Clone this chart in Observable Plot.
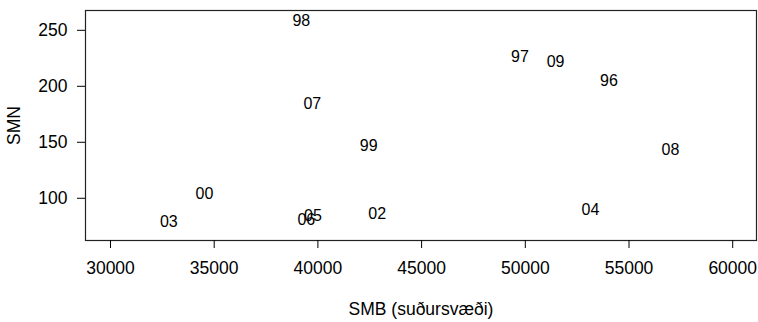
<!DOCTYPE html>
<html>
<head>
<meta charset="utf-8">
<script src="https://cdn.jsdelivr.net/npm/d3@7"></script>
<script src="https://cdn.jsdelivr.net/npm/@observablehq/plot@0.6"></script>
<style>
  html, body { margin: 0; padding: 0; background: #fff; }
</style>
</head>
<body>
<div id="chart"></div>
<script>
// Year labels (two-digit) with SMB (south region) and SMN values
const years = ["96", "97", "98", "99", "00", "02", "03", "04", "05", "06", "07", "08", "09"];
const smb   = [54030, 49740, 39200, 42450, 34530, 42860, 32810, 53140, 39760, 39440, 39730, 57000, 51460];
const smn   = [204.7, 226.2, 258.3, 146.7, 104.1, 85.7, 78.8, 89.5, 84.3, 80.6, 183.9, 143.1, 221.7];

const xTicks = [30000, 35000, 40000, 45000, 50000, 55000, 60000];
const yTicks = [100, 150, 200, 250];

const rows = years.map((y, i) => ({year: y, smb: smb[i], smn: smn[i]}));

const chart = Plot.plot({
  width: 758,
  height: 322,
  marginLeft: 85,
  marginRight: 2,
  marginTop: 10,
  marginBottom: 82,
  style: {fontFamily: "'Liberation Sans', Arial, sans-serif", fontSize: "17px", color: "#000", background: "#fff"},
  x: {domain: [28795, 61147]},
  y: {domain: [62.3, 267.7]},
  marks: [
    Plot.frame({stroke: "#222", strokeWidth: 1.2}),
    Plot.axisX(xTicks, {
      tickSize: 8, tickPadding: 13, tickFormat: d => String(d), fontSize: 17.5,
      label: "SMB (suðursvæði)", labelAnchor: "center", labelArrow: "none", labelOffset: 74
    }),
    Plot.axisY(yTicks, {
      tickSize: 8, tickPadding: 10, fontSize: 17.5,
      label: "SMN", labelAnchor: "center", labelArrow: "none", labelOffset: 78
    }),
    Plot.text(rows, {x: "smb", y: "smn", text: "year", fontSize: 16, fill: "#000"})
  ]
});

document.getElementById("chart").appendChild(chart);
</script>
</body>
</html>
